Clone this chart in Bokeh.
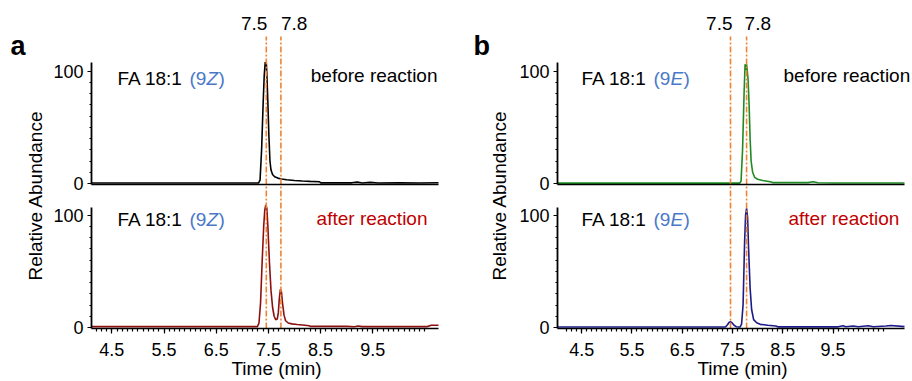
import math
from bokeh.plotting import figure
from bokeh.models import FixedTicker, Label, Range1d, LinearAxis
from bokeh.layouts import row
from bokeh.embed import file_html
from bokeh.resources import INLINE

# ---------------- data ----------------
# panel a : FA 18:1 (9Z)
a_top_time = [4.11, 7.31, 7.34, 7.37, 7.40, 7.42, 7.44, 7.45, 7.46, 7.47, 7.49, 7.51, 7.53, 7.55, 7.58,
              7.62, 7.68, 7.75, 7.85, 8.00, 8.15, 8.30, 8.48, 8.50, 9.10, 9.20, 9.30, 9.45, 9.60, 10.00,
              10.40, 10.76]
a_top_abund = [0.4, 0.4, 3, 30, 72, 96, 108, 105, 107, 98, 72, 42, 20, 12, 8,
               6, 4.8, 4.0, 3.3, 2.6, 2.2, 1.9, 1.6, 0.6, 0.6, 1.2, 0.5, 1.0, 0.5, 0.7,
               0.5, 0.7]
a_bot_time = [4.11, 7.29, 7.32, 7.35, 7.38, 7.41, 7.43, 7.45, 7.47, 7.49, 7.52, 7.55, 7.58, 7.61, 7.64,
              7.67, 7.69, 7.71, 7.73, 7.75, 7.77, 7.80, 7.83, 7.88, 7.95, 8.05, 8.20, 8.28, 8.30, 9.00,
              9.15, 9.22, 9.30, 10.55, 10.62, 10.76]
a_bot_abund = [0.8, 0.8, 4, 22, 58, 90, 104, 109, 106, 90, 58, 33, 18, 10, 7,
               7.5, 13, 26, 34, 32, 22, 11, 6, 4, 3.2, 2.6, 2.0, 1.6, 1.0, 1.0,
               0.6, 1.3, 0.8, 0.8, 2.0, 2.0]
# panel b : FA 18:1 (9E)
b_top_time = [4.02, 7.64, 7.67, 7.70, 7.73, 7.75, 7.77, 7.78, 7.79, 7.81, 7.83, 7.85, 7.87, 7.90, 7.94,
              8.00, 8.10, 8.25, 8.30, 9.00, 9.10, 9.20, 9.50, 10.92]
b_top_abund = [0.3, 0.3, 2, 30, 80, 106, 101, 106, 102, 92, 70, 40, 20, 10, 5.5,
               3.8, 2.6, 1.6, 0.8, 0.8, 1.5, 0.6, 0.5, 0.5]
b_bot_time = [4.02, 7.36, 7.40, 7.43, 7.46, 7.49, 7.53, 7.58, 7.65, 7.68, 7.71, 7.74, 7.76, 7.78, 7.80,
              7.82, 7.85, 7.88, 7.92, 7.98, 8.05, 8.20, 8.36, 8.40, 9.60, 9.70, 9.75, 9.90, 10.00, 10.20,
              10.30, 10.55, 10.65, 10.92]
b_bot_abund = [0.4, 0.4, 2.5, 4.5, 5.2, 4.2, 2, 0.6, 0.4, 3, 20, 75, 100, 106, 98,
               70, 35, 16, 7, 4.2, 2.8, 2.0, 1.4, 0.6, 0.6, 1.6, 0.7, 1.4, 0.6, 1.6,
               0.7, 1.3, 1.8, 0.8]

x_tick_values = [4.5, 5.5, 6.5, 7.5, 8.5, 9.5]
x_tick_labels = ["4.5", "5.5", "6.5", "7.5", "8.5", "9.5"]
y_tick_values = [0, 100]
y_tick_labels = ["0", "100"]
marker_labels = ["7.5", "7.8"]
marker_times_a = [7.46, 7.74]
marker_times_b = [7.46, 7.78]

# ---------------- style / layout ----------------
FONT = "Liberation Sans"
ORANGE = "#EE8435"
BLUE_TXT = "#4A78C8"
RED_TXT = "#C00000"
W, H = 456, 381
OFF = 128                 # vertical offset of the upper chromatogram (data units)
Y_PX0, Y_SCALE = 327.0, 1.125   # pixel row of abundance 0 (lower trace), px per unit
Y_START = -0.9            # lower x-axis position (data units)


def build_panel(letter, x_start, x_end, ax_px, x_scale, top, bot, iso, iso_w, markers,
                marker_dx, fa_px, before_px, before_align, after_px, after_align,
                ylab_px, xlab_px, letter_px):
    def X(px):            # canvas pixel column -> data x (placement of texts only)
        return x_start + (px - ax_px) / x_scale

    def Y(py):            # canvas pixel row -> data y (placement of texts only)
        return (Y_PX0 - py) / Y_SCALE

    p = figure(width=W, height=H, x_range=Range1d(X(0), X(W)), y_range=Range1d(Y(H), Y(0)),
               output_backend="svg", toolbar_location=None, title=None,
               x_axis_location=None, y_axis_location=None,
               min_border_left=0, min_border_right=0, min_border_top=0, min_border_bottom=0)
    p.outline_line_color = None
    p.xgrid.visible = False
    p.ygrid.visible = False
    p.background_fill_color = "white"
    p.border_fill_color = "white"

    # ---- lower x axis (with ticks)
    xa = LinearAxis(fixed_location=Y_START, bounds=(x_start, x_end),
                    ticker=FixedTicker(ticks=x_tick_values,
                                       minor_ticks=[round(4.2 + 0.1 * i, 2) for i in range(64)]),
                    major_label_overrides={v: l for v, l in zip(x_tick_values, x_tick_labels)},
                    axis_line_width=1.6, axis_line_color="black",
                    major_tick_out=5, major_tick_in=0, minor_tick_out=3, minor_tick_in=0,
                    major_tick_line_width=1.2, minor_tick_line_width=1.2,
                    major_label_text_font=FONT, major_label_text_font_size="18px",
                    major_label_text_color="black", major_label_standoff=9)
    p.add_layout(xa, "below")
    # ---- upper x axis (rule only)
    xa2 = LinearAxis(fixed_location=OFF + Y_START, bounds=(x_start, x_end),
                     ticker=FixedTicker(ticks=[]), axis_line_width=1.6, axis_line_color="black",
                     major_tick_out=0, major_tick_in=0, minor_tick_out=0, minor_tick_in=0,
                     major_label_text_color=None)
    p.add_layout(xa2, "below")
    # ---- y axes, one per sub-plot
    for base, top_lim in ((0, 106.7), (OFF, OFF + 107.6)):
        ya = LinearAxis(fixed_location=x_start, bounds=(base + Y_START, top_lim),
                        ticker=FixedTicker(ticks=[v + base for v in y_tick_values],
                                           minor_ticks=[base + 10 * i for i in range(1, 10)]),
                        major_label_overrides={v + base: l for v, l in zip(y_tick_values, y_tick_labels)},
                        axis_line_width=1.8, axis_line_color="black",
                        major_tick_out=4, major_tick_in=0, minor_tick_out=2, minor_tick_in=0,
                        major_tick_line_width=1.2, minor_tick_line_width=1.0,
                        major_label_text_font=FONT, major_label_text_font_size="18px",
                        major_label_text_color="black", major_label_standoff=4)
        p.add_layout(ya, "left")

    # ---- chromatograms
    p.line(top[0], [v + OFF for v in top[1]], line_color=top[2], line_width=1.6)
    p.line(bot[0], bot[1], line_color=bot[2], line_width=1.6)

    # ---- retention-time markers
    p.segment(x0=markers, y0=[Y_START] * len(markers), x1=markers, y1=[Y(36)] * len(markers),
              line_color=ORANGE, line_width=1.6, line_dash="6 2 2 2")

    def lab(x, py, text, size=19, color="black", align="left", style="normal",
            x_offset=0, angle=0.0, centre=False):
        # py is the wanted baseline row (or the centre row when centre=True)
        yc = py if centre else py - 0.35 * size
        p.add_layout(Label(x=x, y=Y(yc), text=text, text_font=FONT, text_font_size=f"{size}px",
                           text_color=color, text_align=align, text_font_style=style,
                           x_offset=x_offset, angle=angle, text_baseline="middle"))

    lab(markers[0], 30, marker_labels[0], align="right", x_offset=marker_dx[0])
    lab(markers[1], 30, marker_labels[1], align="left", x_offset=marker_dx[1])

    # ---- panel letter
    lab(X(letter_px), 55, letter, size=27, style="bold")

    # ---- compound / condition labels
    for py in (84.5, 226.0):
        lab(X(fa_px), py, "FA 18:1 ")
        lab(X(fa_px), py, "(9", color=BLUE_TXT, x_offset=72)
        lab(X(fa_px), py, iso, color=BLUE_TXT, style="italic", x_offset=89)
        lab(X(fa_px), py, ")", color=BLUE_TXT, x_offset=89 + iso_w)
    lab(X(before_px), 82, "before reaction", align=before_align)
    lab(X(after_px), 225, "after reaction", color=RED_TXT, align=after_align)

    # ---- axis titles
    lab(X(ylab_px), 195, "Relative Abundance", align="center", angle=math.pi / 2, centre=True)
    lab(X(xlab_px), 375, "Time (min)", align="center")
    return p


pa = build_panel("a", 4.11, 10.76, 91, 52.18,
                 (a_top_time, a_top_abund, "#000000"),
                 (a_bot_time, a_bot_abund, "#8C1010"),
                 "Z", 12, marker_times_a, (1, 0),
                 117, 437, "right", 427, "right", 35, 276, 10)
pb = build_panel("b", 4.02, 10.92, 101, 50.29,
                 (b_top_time, b_top_abund, "#1E8B22"),
                 (b_bot_time, b_bot_abund, "#1B1B8A"),
                 "E", 13, marker_times_b, (2, -2),
                 125, 327, "left", 332, "left", 42.5, 286, 17)

layout = row(pa, pb, spacing=0)
open("out.html", "w").write(file_html(layout, INLINE))
